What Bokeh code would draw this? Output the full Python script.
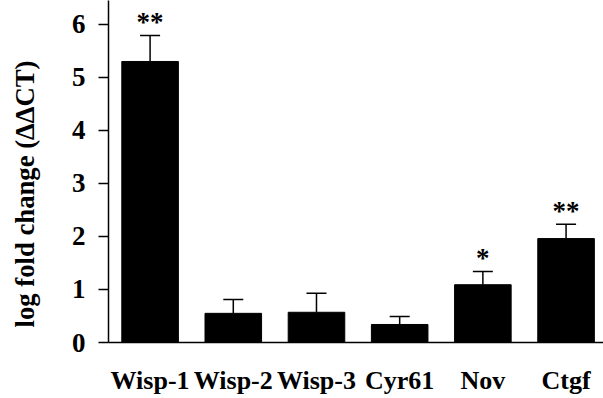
from bokeh.plotting import figure
from bokeh.models import ColumnDataSource, Range1d, FixedTicker, Whisker, TeeHead, Title
from bokeh.core.properties import value
from bokeh.embed import file_html
from bokeh.resources import INLINE

categories = ["Wisp-1", "Wisp-2", "Wisp-3", "Cyr61", "Nov", "Ctgf"]
fold_change = [5.30, 0.55, 0.57, 0.34, 1.09, 1.96]
error = [0.49, 0.26, 0.36, 0.15, 0.25, 0.27]
significance = ["**", "", "", "", "*", "**"]
y_ticks = [0, 1, 2, 3, 4, 5, 6]
y_title = "log fold change (ΔΔCT)"

xs = [i + 0.5 for i in range(len(categories))]
upper = [v + e for v, e in zip(fold_change, error)]
src = ColumnDataSource(dict(x=xs, value=fold_change, upper=upper, sig=significance))

FONT = "Liberation Serif"

p = figure(width=603, height=398, output_backend="svg", toolbar_location=None,
           x_range=Range1d(0, 5.95), y_range=Range1d(0, 6.45),
           min_border_left=107, min_border_right=0, min_border_top=0, min_border_bottom=56)
p.outline_line_color = None
p.grid.visible = False
p.background_fill_color = "white"

p.vbar(x="x", top="value", width=0.68, source=src, fill_color="black", line_color="black")

wh = Whisker(source=src, base="x", upper="upper", lower="value", dimension="height",
             line_color="black", line_width=1.5,
             upper_head=TeeHead(size=20, line_color="black", line_width=1.5), lower_head=None)
p.add_layout(wh)

p.text(x="x", y="upper", text="sig", source=src, text_font=value(FONT),
       text_font_size="27px", text_font_style="bold", text_align="center",
       text_baseline="alphabetic", y_offset=-13, text_color="black")

# y axis
ya = p.yaxis[0]
ya.ticker = FixedTicker(ticks=y_ticks)
ya.minor_tick_line_color = None
ya.major_tick_in = 0
ya.major_tick_out = 10
ya.major_tick_line_width = 1.5
ya.major_tick_line_color = "black"
ya.axis_line_width = 1.5
ya.axis_line_color = "black"
ya.major_label_text_color = "black"
ya.major_label_text_font = FONT
ya.major_label_text_font_size = "27px"
ya.major_label_text_font_style = "bold"
ya.major_label_standoff = 13
# invisible spacer label to push the title outward
ya.axis_label = " "
ya.axis_label_text_font_size = "1px"
ya.axis_label_standoff = 18

p.add_layout(Title(text=y_title, align="right", offset=60, standoff=14,
                   text_font=FONT, text_font_size="26.7px", text_font_style="bold",
                   text_color="black"), "left")

# x axis
xa = p.xaxis[0]
xa.ticker = FixedTicker(ticks=xs)
xa.major_label_overrides = {x: c for x, c in zip(xs, categories)}
xa.minor_tick_line_color = None
xa.major_tick_line_color = None
xa.major_tick_in = 0
xa.major_tick_out = 0
xa.axis_line_width = 1.5
xa.axis_line_color = "black"
xa.major_label_text_color = "black"
xa.major_label_text_font = FONT
xa.major_label_text_font_size = "26px"
xa.major_label_text_font_style = "bold"
xa.major_label_standoff = 23

open("out.html", "w").write(file_html(p, INLINE))
